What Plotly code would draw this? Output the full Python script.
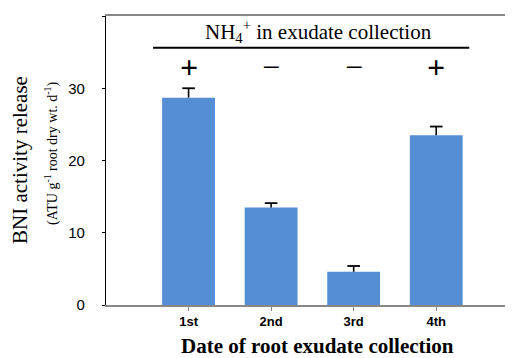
import plotly.graph_objects as go

categories = ["1st", "2nd", "3rd", "4th"]
values = [28.7, 13.5, 4.6, 23.5]
errors = [1.3, 0.6, 0.8, 1.2]
nh4_signs = ["<b>+</b>", "−", "−", "<b>+</b>"]
y_ticks = [0, 10, 20, 30, 40]

# page body has an 8px default margin; compensate
OFF = 8
W, H = 513 - OFF, 358 - OFF
L, T = 106 - OFF, 16 - OFF
B = H - (305 - OFF)

fig = go.Figure()
fig.add_trace(go.Bar(
    x=categories, y=values,
    marker=dict(color="#558ED5", line=dict(width=0)),
    width=0.64,
))
# upper-only error bars: stem from the top down to the bar, with a cap marker
tops = [v + e for v, e in zip(values, errors)]
fig.add_trace(go.Scatter(
    x=categories, y=tops, mode="markers",
    marker=dict(symbol="line-ew-open", size=9, color="black",
                line=dict(color="black", width=1.8)),
    error_y=dict(type="data", symmetric=False, array=[0] * len(errors),
                 arrayminus=errors, color="black", thickness=1.6, width=0),
    hoverinfo="skip",
))

for c, s in zip(categories, nh4_signs):
    fig.add_annotation(x=c, y=33.0, xref="x", yref="y", text=s, showarrow=False,
                       xanchor="center", yanchor="middle",
                       font=dict(family="Liberation Serif", size=32, color="black"))

fig.add_shape(type="line", xref="x", yref="y", x0=-0.43, x1=3.4, y0=35.6, y1=35.6,
              line=dict(color="black", width=2))
fig.add_annotation(x=1.57, y=37.9, xref="x", yref="y",
                   text="NH<sub>4</sub><sup>+</sup> in exudate collection",
                   showarrow=False, xanchor="center", yanchor="middle",
                   font=dict(family="Liberation Serif", size=21, color="black"))

fig.update_layout(
    width=W, height=H,
    margin=dict(l=L, r=0, t=T, b=B, pad=0),
    plot_bgcolor="white", paper_bgcolor="white",
    showlegend=False,
    xaxis=dict(range=[-1, 3.93], showline=True, linecolor="#888888", linewidth=1.5,
               mirror=True, ticks="outside", ticklen=4, tickcolor="#888888",
               tickfont=dict(family="Liberation Sans", size=13, color="black", weight="bold"),
               showgrid=False, zeroline=False),
    yaxis=dict(range=[0, 40], tickvals=y_ticks, showline=True, linecolor="black",
               linewidth=1.2, ticks="outside", ticklen=3, tickcolor="black",
               ticklabelstandoff=14,
               tickfont=dict(family="Liberation Sans", size=15, color="black"),
               showgrid=False, zeroline=False),
)

pw = W - L
ph = H - T - B
def px_x(px):
    return (px - OFF - L) / pw
def px_y(py):
    return (H - B - (py - OFF)) / ph

fig.add_annotation(x=px_x(317), y=px_y(346), xref="paper", yref="paper",
                   xanchor="center", yanchor="middle",
                   text="<b>Date of root exudate collection</b>", showarrow=False,
                   font=dict(family="Liberation Serif", size=21, color="black"))
fig.add_annotation(x=px_x(20), y=px_y(160), xref="paper", yref="paper",
                   xanchor="center", yanchor="middle",
                   text="BNI activity release", showarrow=False, textangle=-90,
                   font=dict(family="Liberation Serif", size=21, color="black"))
fig.add_annotation(x=px_x(51), y=px_y(154), xref="paper", yref="paper",
                   xanchor="center", yanchor="middle",
                   text="(ATU g<sup>-1</sup> root dry wt. d<sup>-1</sup>)", showarrow=False,
                   textangle=-90,
                   font=dict(family="Liberation Serif", size=14, color="black"))

fig.write_html("out.html")
